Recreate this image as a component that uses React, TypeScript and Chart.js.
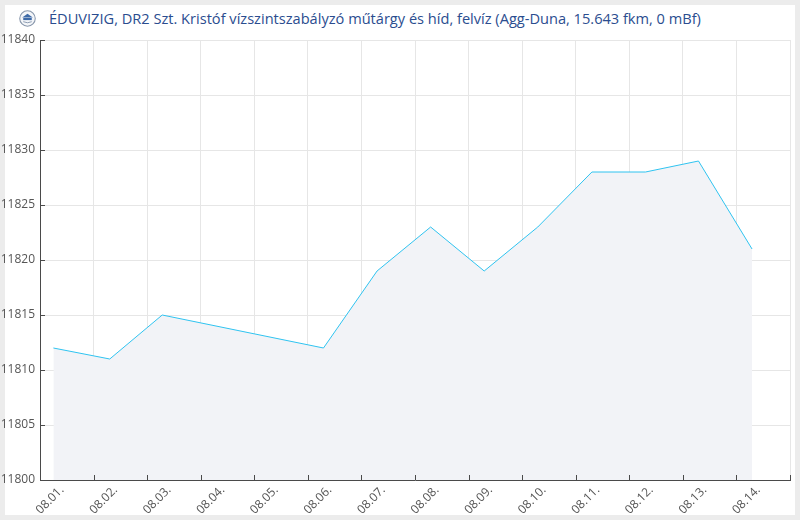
import React, { useEffect, useRef } from "react";
import { Chart, registerables } from "chart.js";

Chart.register(...registerables);

const TITLE = "ÉDUVIZIG, DR2 Szt. Kristóf vízszintszabályzó műtárgy és híd, felvíz (Agg-Duna, 15.643 fkm, 0 mBf)";

// x-axis day labels (one per day interval)
const dayLabels = ["08.01.", "08.02.", "08.03.", "08.04.", "08.05.", "08.06.", "08.07.", "08.08.", "08.09.", "08.10.", "08.11.", "08.12.", "08.13.", "08.14."];

// measurements: day index (0 = 08.01.), hour of the day, water level
const measDay = [0, 1, 2, 5, 6, 7, 8, 9, 10, 11, 12, 13];
const measHour = [6, 7.25, 6.75, 7, 7, 7, 7, 7, 7.25, 7.25, 7, 7];
const levels = [11812, 11811, 11815, 11812, 11819, 11823, 11819, 11823, 11828, 11828, 11829, 11821];

const yMin = 11800;
const yMax = 11840;
const yStep = 5;

const AXIS_COLOR = "#4a4a4a";
const GRID_COLOR = "#e6e6e6";
const TEXT_COLOR = "#555555";
const FONT = "'Open Sans', 'Noto Sans', sans-serif";

const innerTicks = {
  id: "innerTicks",
  afterDraw(chart: any) {
    const { ctx, chartArea } = chart;
    const xs = chart.scales.x;
    const ys = chart.scales.y;
    ctx.save();
    ctx.strokeStyle = AXIS_COLOR;
    ctx.lineWidth = 1;
    ctx.beginPath();
    xs.ticks.forEach((t: any) => {
      const px = Math.round(xs.getPixelForValue(t.value)) + 0.5;
      ctx.moveTo(px, chartArea.bottom);
      ctx.lineTo(px, chartArea.bottom - 5);
    });
    ys.ticks.forEach((t: any) => {
      const py = Math.round(ys.getPixelForValue(t.value)) + 0.5;
      ctx.moveTo(chartArea.left, py);
      ctx.lineTo(chartArea.left + 5, py);
    });
    ctx.stroke();
    ctx.restore();
  },
};

export default function App() {
  const ref = useRef<HTMLCanvasElement | null>(null);

  useEffect(() => {
    document.body.style.margin = "0";
    const data = measDay.map((d, i) => ({ x: d + measHour[i] / 24, y: levels[i] }));
    const chart = new Chart(ref.current as HTMLCanvasElement, {
      type: "line",
      data: {
        datasets: [
          {
            data,
            borderColor: "#2fc3f0",
            borderWidth: 1,
            backgroundColor: "#f2f3f7",
            fill: "start",
            pointRadius: 0,
            tension: 0,
          },
        ],
      },
      options: {
        animation: false,
        responsive: false,
        events: [],
        layout: { padding: { top: 40, right: 10, left: 0, bottom: 0 } },
        plugins: { legend: { display: false }, tooltip: { enabled: false }, title: { display: false } },
        scales: {
          x: {
            type: "linear",
            min: 0,
            max: dayLabels.length,
            afterFit: (s: any) => {
              s.height = 40;
              s.paddingLeft = 0;
              s.paddingRight = 0;
            },
            grid: { color: GRID_COLOR, drawTicks: false },
            border: { color: AXIS_COLOR, width: 1 },
            ticks: {
              stepSize: 1,
              autoSkip: false,
              minRotation: 45,
              maxRotation: 45,
              labelOffset: 22,
              padding: 3,
              color: TEXT_COLOR,
              font: { family: FONT, size: 12 },
              callback: (v: any) => (Number.isInteger(v) && v < dayLabels.length ? dayLabels[v] : ""),
            },
          },
          y: {
            min: yMin,
            max: yMax,
            afterFit: (s: any) => {
              s.width = 40;
              s.paddingTop = 0;
              s.paddingBottom = 0;
            },
            grid: { color: GRID_COLOR, drawTicks: false },
            border: { color: AXIS_COLOR, width: 1 },
            ticks: {
              stepSize: yStep,
              padding: 5,
              color: TEXT_COLOR,
              font: { family: FONT, size: 12 },
              callback: (v: any) => String(v),
            },
          },
        },
      },
      plugins: [innerTicks],
    });
    return () => chart.destroy();
  }, []);

  return (
    <div style={{ position: "relative", width: 800, height: 520, background: "#ececec", overflow: "hidden" }}>
      <div style={{ position: "absolute", left: 5, top: 5, width: 790, height: 510, background: "#ffffff" }} />
      <div
        style={{
          position: "absolute",
          left: 19,
          top: 8,
          display: "flex",
          alignItems: "center",
          whiteSpace: "nowrap",
          fontFamily: FONT,
          fontSize: 14.6,
          color: "#2b4d8f",
        }}
      >
        <svg width="17" height="17" viewBox="0 0 16 16" style={{ marginRight: 13 }}>
          <circle cx="8" cy="8" r="7.3" fill="#f4f6f9" stroke="#8796ab" strokeWidth="1" />
          <path d="M3 7 L8 3.5 L13 7 Z" fill="#3d6aa8" />
          <rect x="4" y="7.5" width="8" height="2" fill="#3d6aa8" />
          <path d="M4 11 Q8 13 12 11" stroke="#7d8fa8" strokeWidth="0.8" fill="none" />
        </svg>
        <span>{TITLE}</span>
      </div>
      <canvas ref={ref} width={800} height={520} style={{ position: "absolute", left: 0, top: 0 }} />
    </div>
  );
}
